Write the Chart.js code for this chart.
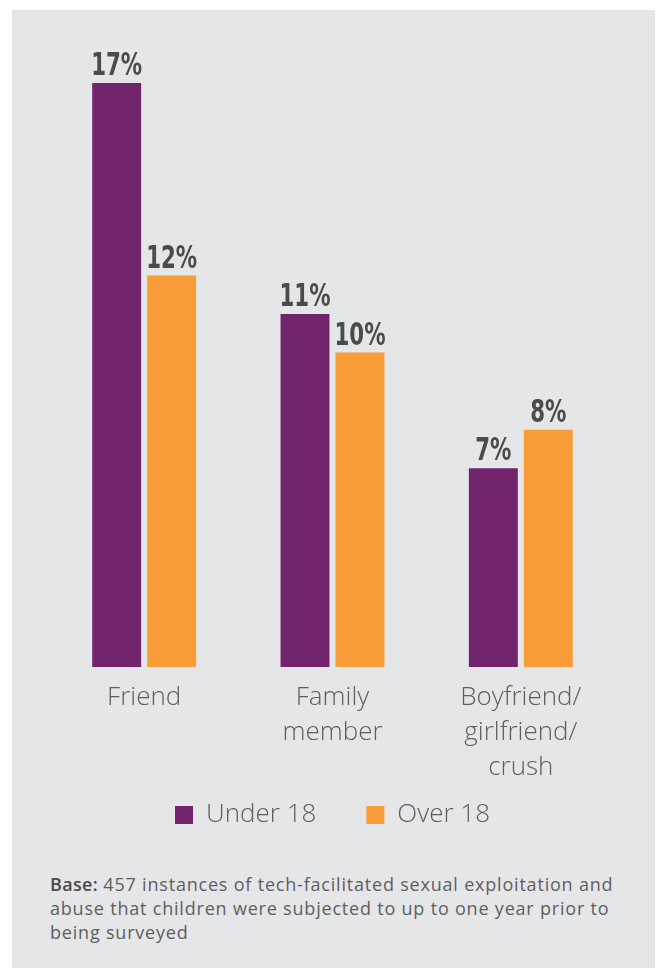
<!DOCTYPE html>
<html>
<head>
<meta charset="utf-8">
<script src="https://cdn.jsdelivr.net/npm/chart.js@4/dist/chart.umd.min.js"></script>
<style>
  html, body { margin: 0; padding: 0; background: #ffffff; }
  #panel {
    position: absolute; left: 12px; top: 10px;
    width: 643px; height: 958px;
    background: #e5e6e8;
  }
  #chartBox { position: absolute; left: 0; top: 0; width: 643px; height: 836px; }
  #note {
    position: absolute; left: 38px; top: 862px;
    font-family: "Open Sans", sans-serif; font-size: 18px; line-height: 24px;
    letter-spacing: 0.8px;
    color: #5e5e60; white-space: nowrap; font-weight: 400;
  }
  #note b { font-weight: 600; color: #4a4a4c; letter-spacing: 0.3px; }
</style>
</head>
<body>
<div id="panel">
  <div id="chartBox"><canvas id="chart"></canvas></div>
  <div id="note"><b>Base:</b> 457 instances of tech-facilitated sexual exploitation and<br>abuse that children were subjected to up to one year prior to<br>being surveyed</div>
</div>
<script>
// Relationship of the person involved, by age group
const categories = [
  "Friend",
  ["Family", "member"],
  ["Boyfriend/", "girlfriend/", "crush"]
];
const seriesNames = ["Under 18", "Over 18"];
const under18 = [17, 11, 7];
const over18 = [12, 10, 8];

const PURPLE = "#72246c";
const ORANGE = "#f89d38";
const TEXT = "#5e5e60";
const LABEL_FONT = '"Open Sans", "Noto Sans", sans-serif';

// Percent labels above each bar in a narrow bold face
const valueLabels = {
  id: "valueLabels",
  afterDatasetsDraw(chart) {
    const ctx = chart.ctx;
    ctx.save();
    ctx.fillStyle = "#4b4b4d";
    ctx.textAlign = "center";
    ctx.textBaseline = "alphabetic";
    ctx.font = 'bold 32px "Liberation Sans Narrow", "DejaVu Sans Condensed", sans-serif';
    chart.data.datasets.forEach((ds, i) => {
      const meta = chart.getDatasetMeta(i);
      meta.data.forEach((bar, j) => {
        ctx.save();
        ctx.translate(bar.x, bar.y - 8);
        ctx.scale(0.74, 1);
        ctx.fillText(ds.data[j] + "%", 0, 0);
        ctx.restore();
      });
    });
    ctx.restore();
  }
};

new Chart(document.getElementById("chart"), {
  type: "bar",
  data: {
    labels: categories,
    datasets: [
      { label: seriesNames[0], data: under18, backgroundColor: PURPLE },
      { label: seriesNames[1], data: over18, backgroundColor: ORANGE }
    ]
  },
  options: {
    responsive: true,
    maintainAspectRatio: false,
    animation: false,
    categoryPercentage: 0.584,
    barPercentage: 0.89,
    layout: { padding: { left: 38, right: 40, top: 54, bottom: 8 } },
    scales: {
      x: {
        grid: { display: false, drawTicks: false },
        border: { display: false },
        // let the legend's top padding absorb part of the label block,
        // and keep the three-line label from being clipped to the axis box
        afterFit(scale) {
          scale.height -= 46;
          scale._computeLabelArea = () => undefined;
        },
        ticks: {
          color: TEXT,
          padding: 13,
          maxRotation: 0,
          autoSkip: false,
          font: { family: LABEL_FONT, size: 26, weight: 300, lineHeight: 1.346 }
        }
      },
      y: {
        display: false,
        min: 1.84,
        max: 17.49
      }
    },
    plugins: {
      legend: {
        position: "bottom",
        labels: {
          color: TEXT,
          boxWidth: 18,
          boxHeight: 18,
          padding: 50,
          font: { family: LABEL_FONT, size: 26, weight: 300 }
        }
      },
      tooltip: { enabled: false }
    }
  },
  plugins: [valueLabels]
});
</script>
</body>
</html>
